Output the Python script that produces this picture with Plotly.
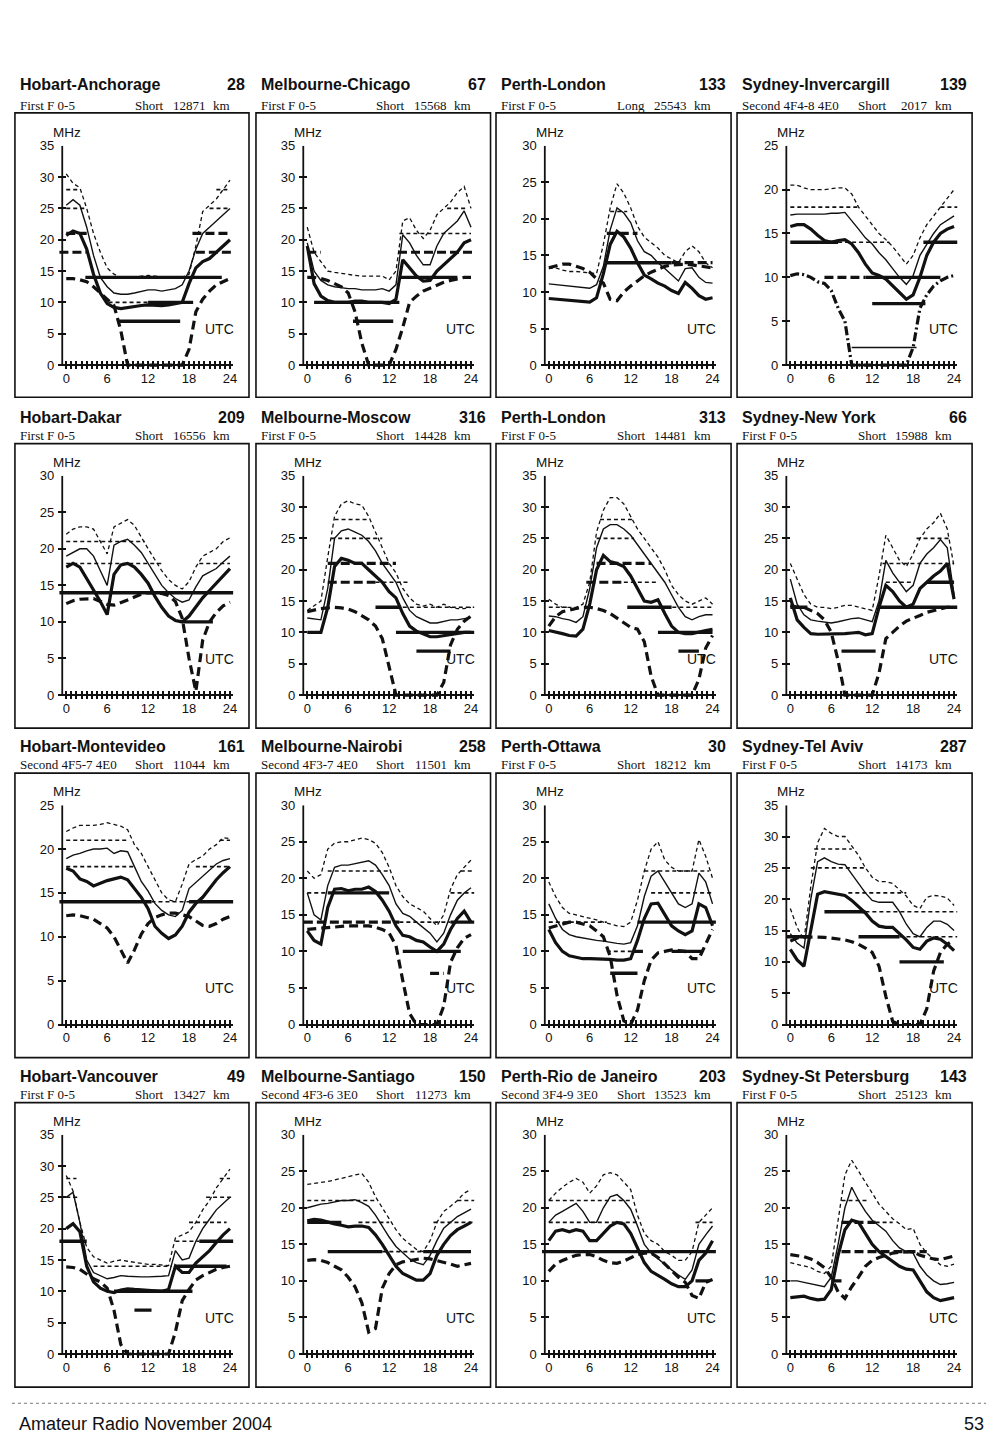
import plotly.graph_objects as go

# ---------------- data ----------------
HOURS = list(range(25))
XTICK_LABELS = {0: "0", 6: "6", 12: "12", 18: "18", 24: "24"}
XTICK_STEP = 0.75   # spacing of the small tick marks on the UTC axis

TITLES = ["Hobart-Anchorage", "Melbourne-Chicago", "Perth-London", "Sydney-Invercargill",
          "Hobart-Dakar", "Melbourne-Moscow", "Perth-London", "Sydney-New York",
          "Hobart-Montevideo", "Melbourne-Nairobi", "Perth-Ottawa", "Sydney-Tel Aviv",
          "Hobart-Vancouver", "Melbourne-Santiago", "Perth-Rio de Janeiro", "Sydney-St Petersburg"]
NUMBERS = ["28", "67", "133", "139", "209", "316", "313", "66",
           "161", "258", "30", "287", "49", "150", "203", "143"]
MODES = ["First F 0-5", "First F 0-5", "First F 0-5", "Second 4F4-8 4E0",
         "First F 0-5", "First F 0-5", "First F 0-5", "First F 0-5",
         "Second 4F5-7 4E0", "Second 4F3-7 4E0", "First F 0-5", "First F 0-5",
         "First F 0-5", "Second 4F3-6 3E0", "Second 3F4-9 3E0", "First F 0-5"]
PATHS = ["Short", "Short", "Long", "Short", "Short", "Short", "Short", "Short",
         "Short", "Short", "Short", "Short", "Short", "Short", "Short", "Short"]
DISTANCES = ["12871", "15568", "25543", "2017", "16556", "14428", "14481", "15988",
             "11044", "11501", "18212", "14173", "13427", "11273", "13523", "25123"]
YMAX = [35, 35, 30, 25, 30, 35, 35, 35, 25, 30, 30, 35, 35, 30, 30, 30]

# Hobart-Anchorage
P1_UP = [30.5, 29, 28.3, 25, 21, 18, 15.5, 14.5, 14, 14, 14, 14.2, 14.3, 14.2, 14, 14, 14, 14, 14.5, 19, 24.5, 25.5, 26.5, 28, 29.5]
P1_MED = [25.5, 26.4, 25.5, 22, 17.5, 14, 12.5, 11.5, 11.3, 11.3, 11.5, 11.8, 12, 12, 11.8, 12, 12.2, 12.8, 15, 18.5, 21, 22, 23, 24, 25]
P1_LOW = [20.7, 21.4, 21, 18.5, 14.5, 11.5, 9.8, 9.2, 9, 9.2, 9.4, 9.5, 9.6, 9.5, 9.5, 9.6, 9.8, 10, 13, 15.5, 16.5, 17, 18, 19, 20]
P1_LUF = [13.8, 13.8, 13.6, 13.3, 12.5, 11.5, 10.5, 9.5, 5.5, 0, 0, 0, 0, 0, 0, 0, 0, 0, 2.5, 8.5, 10.5, 11.8, 12.8, 13.3, 13.8]
P1_BARS = [(28, 0, 2, "d"), (25, 0, 3, "d"), (21, 0, 3, "D"), (18, -1, 3, "D"), (14, 2.8, 22.8, "S"),
           (10, 6.2, 12, "d"), (10, 12, 18.6, "S"), (7, 7.6, 16.7, "S"), (28, 22, 24, "d"),
           (25, 21, 24, "d"), (21, 18.5, 24, "D"), (18, 19, 24.5, "D")]

# Melbourne-Chicago
P2_UP = [22, 18, 16.5, 15, 14.8, 14.6, 14.5, 14.3, 14.2, 14.2, 14.2, 14.2, 13.6, 15, 23, 23.5, 21.5, 20.2, 21.5, 24, 25, 26, 27.5, 28.5, 25]
P2_MED = [19.5, 15, 13.5, 12.8, 12.5, 12.3, 12.2, 12.2, 12, 12, 12, 12.2, 11.8, 12.8, 20.8, 19.5, 17.5, 16, 16, 19, 21, 22, 23, 24.6, 22]
P2_LOW = [19, 13, 11, 10.3, 10, 10, 10, 10.2, 10.2, 10, 10, 10, 9.8, 10.5, 16.8, 15.5, 14.2, 13.4, 13.5, 15, 16, 17, 18, 19.5, 20]
P2_LUF = [14, 14, 13.8, 13.5, 13, 12.5, 11.5, 8.5, 3.5, 0, 0, 0, 0, 2.5, 6, 10, 11, 11.8, 12.3, 12.8, 13.2, 13.5, 13.8, 14, 14]
P2_BARS = [(18, 0, 2, "D"), (14, 13.5, 22, "S"), (10, 1, 13.5, "S"), (7, 6.7, 12.6, "S"),
           (18, 13.3, 24.5, "D"), (21, 13.5, 24, "d"), (25, 20.5, 23.5, "d")]

# Perth-London (long path)
P3_UP = [13.2, 13.3, 13, 12.8, 12.8, 12.7, 12.5, 12.5, 16.5, 21.5, 24.8, 23.5, 21.5, 19, 17.5, 16.8, 16, 15, 14.5, 14, 15.5, 16.3, 15.5, 14, 13.3]
P3_MED = [11.1, 11, 10.9, 10.8, 10.7, 10.6, 10.5, 11, 13.5, 18.5, 21.5, 20.8, 19.5, 17, 15.5, 15, 14, 13.2, 12.3, 11.5, 13.2, 13.3, 12, 11.3, 11.2]
P3_LOW = [9.1, 9, 8.9, 8.9, 8.8, 8.7, 8.6, 9.2, 12.5, 16.5, 18.3, 17.5, 16, 14, 12.3, 11.8, 11.2, 10.8, 10.2, 9.8, 11.3, 10.5, 9.5, 9, 9.2]
P3_LUF = [13.3, 13.5, 13.8, 13.8, 13.5, 13.2, 12.7, 11.8, 11.2, 9, 8.8, 10, 10.8, 11.5, 12.2, 12.7, 13.1, 13.5, 13.7, 13.8, 13.8, 13.7, 13.6, 13.5, 13.3]
P3_BARS = [(21, 9, 11.5, "d"), (18, 8.5, 13, "D"), (14, 8.3, 18, "S"), (14, 18, 24, "D")]

# Sydney-Invercargill
P4_UP = [20.5, 20.5, 20.2, 20, 20, 20, 20.1, 20.2, 20.2, 19.5, 18, 17, 16, 15, 14.3, 13.5, 12.5, 11.5, 12.5, 14.5, 16, 17, 18, 19, 20]
P4_MED = [17.1, 17.2, 17.2, 17.2, 17.2, 17.2, 17.3, 17.3, 17.4, 16.5, 15.5, 14.5, 13.8, 12.8, 12, 11, 10, 9.2, 10.2, 12.5, 13.8, 15, 16, 16.5, 17]
P4_LOW = [15.8, 16, 16, 15.5, 14.8, 14.2, 14, 14.2, 14.3, 13.8, 12.8, 11.5, 10.5, 10.2, 9.8, 9, 8.2, 7.5, 8, 10, 12.5, 14, 15, 15.5, 15.8]
P4_LUF = [10.2, 10.4, 10.3, 10, 9.5, 9.3, 8.5, 6.5, 5, 0, 0, 0, 0, 0, 0, 0, 0, 0, 2, 6.5, 8, 9, 9.6, 10, 10.2]
P4_BARS = [(18, 0, 10, "d"), (18, 22, 24.5, "d"), (14, 0, 7, "S"), (14, 7, 14.5, "d"), (14, 19.5, 24.5, "S"),
           (10, 5, 11, "D"), (10, 11, 22, "S"), (7, 12, 19.8, "S"), (2, 9, 18.5, "s")]

# Hobart-Dakar
P5_UP = [22, 22.7, 23, 23, 22.7, 21, 19.3, 23, 23.5, 24, 23.2, 21.5, 20, 18.5, 17, 15.8, 15, 14.5, 15.5, 17.5, 19, 19.5, 20, 21, 21.5]
P5_MED = [19, 19.5, 20, 20, 19, 17, 15, 20.5, 21, 21.3, 20.5, 19.5, 18, 16.5, 15, 14, 13.2, 12.7, 13, 14.8, 16.3, 16.8, 17.3, 18.2, 19]
P5_LOW = [17.5, 18, 17.5, 16, 14.5, 12.8, 11, 16.5, 17.8, 18, 17.5, 16.5, 15.3, 13.5, 12, 10.8, 10.2, 10, 10.8, 12, 13.3, 14.3, 15.3, 16.3, 17.3]
P5_LUF = [12.5, 12.9, 13.1, 13.2, 13.2, 12.8, 12.4, 12.3, 12.6, 13, 13.4, 13.8, 14, 14, 13.9, 13.6, 12.8, 10.5, 5, 0.5, 7.5, 10, 11.3, 12.2, 12.7]
P5_BARS = [(21, 0, 11.5, "d"), (18, 0, 14, "d"), (14, -1, 24.5, "S"), (10, 17, 21.5, "S"), (18, 19.5, 24, "d")]

# Melbourne-Moscow
P6_UP = [13.5, 14.2, 15, 22, 28.5, 30.5, 31, 30.5, 30.3, 28.5, 26, 23.5, 21, 19.5, 17, 15.5, 14.5, 14.2, 14.5, 14, 14.5, 14, 13.8, 13.8, 14]
P6_MED = [12.3, 12.2, 12, 17, 25, 26.2, 26.5, 26, 25.5, 24.5, 23, 21, 19.5, 18, 15.5, 13.5, 12.5, 12, 11.5, 11.5, 11.7, 12, 12, 12.2, 12.4]
P6_LOW = [10, 10, 10, 14, 20.5, 21.8, 21.5, 21, 21, 20, 19, 18, 16.5, 15.5, 13, 11, 10.2, 9.8, 9.3, 9.3, 9.5, 9.7, 9.8, 10, 10]
P6_LUF = [13.3, 13.6, 13.8, 13.9, 14, 13.9, 13.7, 13.3, 12.7, 12, 11, 9, 4.5, 0, 0, 0, 0, 0, 0, 0, 2, 8, 10.5, 11.8, 12.6]
P6_BARS = [(28, 4, 9, "d"), (25, 3.5, 11, "d"), (21, 3, 13, "D"), (18, 3, 10, "D"), (18, 10, 15, "d"),
           (14, 14, 24.5, "d"), (14, 10, 13.5, "S"), (10, 13, 24.5, "S"), (7, 16, 21, "S")]

# Perth-London (short path)
P7_UP = [15.3, 14.5, 14, 14, 14, 14.5, 18, 26, 29.5, 31.5, 31.5, 30.5, 28.5, 26.5, 25, 23.5, 22, 20, 17.5, 16, 15, 14.5, 15, 15.5, 14.5]
P7_MED = [12.6, 12.5, 12.2, 12, 11.6, 12.5, 17, 23.5, 26.5, 27.2, 27.2, 26.5, 25.5, 24, 22.5, 21, 19.5, 18, 16, 14, 12.5, 12, 12.5, 12.8, 12.8]
P7_LOW = [10.3, 10.1, 9.8, 9.5, 9.4, 10.5, 14.5, 20, 22.3, 21.3, 21, 20.5, 19, 17, 15, 14.8, 15.2, 13, 11, 10, 9.8, 9.8, 10.1, 10.3, 10.5]
P7_LUF = [11, 12.5, 13.3, 13.6, 13.8, 14, 14, 13.8, 13.5, 13, 12.3, 11.5, 10.8, 10.5, 8.5, 3, 0, 0, 0, 0, 0, 0, 2.5, 7.5, 9.5]
P7_BARS = [(28, 7.5, 12.5, "d"), (25, 7, 12.5, "d"), (21, 7, 15, "D"), (18, 5.5, 11, "D"), (18, 11, 16, "d"),
           (14, 0, 3, "d"), (14, 14, 24, "d"), (14, 11.5, 18, "S"), (10, 16, 24, "S"), (7, 19, 22, "S")]

# Sydney-New York
P8_UP = [21, 18.5, 16, 14.5, 14, 14, 13.8, 14, 14.3, 14.3, 14, 13.8, 13.5, 19, 25.5, 23.5, 21.5, 20.5, 22.5, 25, 26.5, 27.5, 29, 26.5, 20.5]
P8_MED = [18.5, 14.5, 12.8, 12, 11.8, 11.6, 11.5, 11.7, 12, 12.2, 12.3, 12, 11.7, 15, 21.5, 19.5, 18, 16.5, 17.5, 21, 22.5, 23.5, 24.8, 23.5, 16]
P8_LOW = [15.5, 12, 10.8, 9.8, 9.7, 9.7, 9.7, 9.7, 9.8, 9.9, 10, 9.6, 9.8, 14, 17.5, 16.5, 15, 14, 14.5, 17, 18, 19, 19.8, 21, 15.3]
P8_LUF = [14.3, 14, 14, 13.5, 13, 12, 10, 5.5, 0, 0, 0, 0, 0, 3.5, 9, 10, 11, 11.8, 12.2, 12.7, 13.2, 13.5, 13.8, 14, 14]
P8_BARS = [(14, 0, 2.5, "S"), (7, 7.5, 12.5, "S"), (14, 13, 24.5, "S"), (18, 14, 18, "d"), (18, 20, 24, "S"),
           (21, 13.5, 24, "d"), (25, 18.5, 23.5, "d")]

# Hobart-Montevideo
P9_UP = [22, 22.4, 22.7, 22.7, 22.7, 22.8, 23, 22.8, 22.6, 22.2, 20.5, 19.5, 18, 16.5, 15, 14.2, 14, 16, 18.3, 18.8, 19.2, 20, 20.5, 21.3, 21.2]
P9_MED = [18.9, 19.3, 19.5, 19.8, 20, 20, 20.1, 19.5, 19.8, 19.7, 18, 16.3, 15.2, 13.8, 13, 12.5, 12.3, 13, 15.5, 16.2, 16.8, 17.5, 18.3, 18.7, 18.9]
P9_LOW = [17.8, 17.5, 16.6, 16.3, 15.8, 16.1, 16.4, 16.6, 16.8, 16.5, 15.5, 14.5, 13.2, 11.2, 10.4, 9.8, 10.2, 11.2, 12.8, 13.8, 14.5, 15.5, 16.5, 17.3, 18]
P9_LUF = [12.4, 12.5, 12.4, 12.2, 12, 11.5, 11, 10, 8.5, 7, 8.5, 10.3, 11.5, 12.2, 12.5, 12.7, 12.7, 12.5, 12.3, 11.8, 11.3, 11.2, 11.5, 12, 12.3]
P9_BARS = [(21, 0, 9, "d"), (21, 22.5, 24, "d"), (18, 0, 10, "d"), (18, 19, 24, "d"),
           (14, -1, 12.5, "S"), (14, 12.5, 18, "d"), (14, 18, 24.5, "S")]

# Melbourne-Nairobi
P10_UP = [21, 20, 20.5, 24, 24.8, 25, 25, 25.2, 25.5, 25.3, 24.8, 23.5, 21.5, 19, 17.5, 16.5, 16, 15.5, 14.5, 13.5, 15, 18.5, 20.5, 21.5, 22.5]
P10_MED = [18, 15, 14.3, 19, 21.5, 21.8, 21.8, 22, 22.3, 22.4, 21.8, 20.5, 19, 16.5, 15.2, 14.8, 14, 13.3, 12.5, 11.3, 12.5, 15, 17, 18, 18.7]
P10_LOW = [12.8, 11.5, 11, 16, 18.5, 18.6, 18.3, 18.5, 18.5, 18.8, 18.2, 17, 15.5, 13.5, 12.2, 12, 11.5, 11.3, 10.6, 10, 11, 13, 14.5, 15.5, 14]
P10_LUF = [13, 13.1, 13.2, 13.3, 13.4, 13.5, 13.5, 13.5, 13.5, 13.5, 13.3, 13, 12.5, 10.8, 6, 1.5, 0, 0, 0, 0, 2.5, 8.5, 10.5, 11.8, 12.3]
P10_BARS = [(21, 3, 12, "d"), (21, 22.5, 24.5, "d"), (18, 0, 3, "d"), (18, 3, 12, "S"), (18, 21, 24.5, "d"),
            (14, -0.5, 13.5, "D"), (14, 13.5, 21, "d"), (14, 21, 24.5, "S"), (10, 14, 22.5, "S"), (7, 18, 20, "D")]

# Perth-Ottawa
P11_UP = [19.5, 17.5, 16, 15.2, 15, 14.8, 14.5, 14.3, 14, 13.7, 13.5, 13.4, 14, 17, 21, 24, 25, 22.5, 21.5, 21, 21, 21, 25.3, 23, 20]
P11_MED = [16.5, 14.5, 13, 12.3, 12, 11.8, 11.6, 11.5, 11.4, 11.2, 11.1, 11, 11.2, 13.5, 17.5, 20.3, 21, 19.5, 18, 16.5, 16, 16.5, 20.7, 19.5, 16.5]
P11_LOW = [13, 11.2, 10, 9.4, 9.2, 9, 9, 9, 8.9, 8.9, 8.8, 8.8, 9, 11.5, 14.5, 16.5, 16.6, 15, 13.5, 12.8, 12.3, 12.8, 16.5, 16, 13.5]
P11_LUF = [13.2, 13.5, 13.8, 14, 14, 13.8, 13.5, 12.8, 12, 9.3, 4, 0.5, 0, 2, 6, 8.8, 9.8, 10, 10.2, 10.1, 10, 9, 9, 11, 13]
P11_BARS = [(14, 0, 8.5, "d"), (10, 8.5, 12.5, "d"), (10, 12.5, 13.8, "S"), (7, 9, 13, "S"), (14, 13, 24.5, "S"),
            (21, 14, 23.5, "d"), (18, 15, 24, "d"), (10, 18, 22.5, "S")]

# Sydney-Tel Aviv
P12_UP = [18.5, 15.5, 13.5, 22, 29, 31.3, 30.5, 30, 30, 28.5, 27, 25, 23.5, 22.8, 22.8, 22.5, 21.5, 20.5, 19, 18.5, 20.3, 20.6, 20.5, 20.2, 19]
P12_MED = [14.5, 13, 12.2, 20, 26, 26.6, 26, 25.6, 25.5, 24, 22.5, 21, 19.8, 19.5, 19.5, 19.5, 18, 16, 14.5, 14, 15.5, 16.5, 16.5, 16, 15]
P12_LOW = [12, 10.3, 9.3, 15, 20.8, 21.2, 21, 20.8, 20.6, 19.8, 18.8, 17.8, 16.5, 15.7, 15.5, 15.5, 14.5, 13.5, 12.3, 12, 13.3, 13.8, 13.6, 12.8, 11.8]
P12_LUF = [13.3, 13.8, 14, 14, 14, 13.9, 13.8, 13.7, 13.5, 13.2, 12.8, 12.2, 11.5, 9.3, 4.5, 0.5, 0, 0, 0, 0, 2.5, 8.5, 11.5, 12.8, 13.5]
P12_BARS = [(14, -0.5, 3, "S"), (28, 3.5, 9, "d"), (25, 3, 11, "d"), (21, 8.5, 17, "d"), (18, 5, 11, "S"),
            (18, 11, 24.5, "d"), (14, 10, 16, "S"), (14, 16, 24.5, "d"), (10, 16, 22.5, "S")]

# Hobart-Vancouver
P13_UP = [28.5, 26, 21, 17, 15.5, 15, 14.5, 14.8, 15, 14.8, 14.6, 14.4, 14.3, 14.3, 14.2, 14.1, 18.5, 19, 19.5, 21, 23, 24.5, 26.5, 28, 29.5]
P13_MED = [25, 25.8, 21, 15, 13, 12.5, 12, 12.2, 12.5, 12.4, 12.3, 12.3, 12.3, 12.3, 12.4, 12.5, 16.5, 15, 15.3, 18, 20, 21.5, 23, 24, 25]
P13_LOW = [20, 20.8, 19.5, 14, 11.5, 10.5, 10, 9.8, 10.2, 10.4, 10.3, 10.2, 10.1, 10, 10, 10.3, 14, 13, 13, 14.5, 15.5, 16.5, 17.8, 19, 20]
P13_LUF = [13.9, 13.8, 13.5, 12.8, 12, 11.5, 10.5, 7, 1.5, 0, 0, 0, 0, 0, 0, 0, 3.5, 8.5, 10.3, 11.8, 12.5, 13, 13.5, 13.8, 14]
P13_BARS = [(28, 0, 1.5, "d"), (25, 0, 2, "d"), (18, -1, 3, "S"), (14, 4, 15.5, "d"), (14, 16, 23.5, "S"),
            (10, 7, 18.5, "S"), (7, 10, 12.5, "S"), (18, 16, 19.5, "d"), (18, 19.5, 24.5, "S"),
            (21, 18, 23.5, "d"), (25, 20.5, 24.5, "d"), (28, 22.5, 24, "d")]

# Melbourne-Santiago
P14_UP = [23.2, 23.3, 23.5, 23.6, 23.8, 24, 24.2, 24.5, 24.7, 23.5, 21.5, 20, 18.5, 17, 15.8, 15, 14.3, 14, 15.5, 18, 19.5, 20.2, 21, 22, 22.5]
P14_MED = [20, 20.3, 20.5, 20.6, 20.8, 21, 21, 21.1, 20.7, 20.2, 19, 17.5, 16, 14.7, 13.8, 13, 12.5, 12.2, 13.5, 15.5, 17.2, 18, 18.8, 19.3, 19.8]
P14_LOW = [18.2, 18.4, 18.3, 18, 17.8, 17.6, 17.4, 17.5, 17.5, 17.3, 16.3, 15, 13.5, 12, 11, 10.5, 10.1, 10.1, 11, 13.5, 15, 16.2, 17, 17.5, 18]
P14_LUF = [12.8, 12.9, 12.8, 12.5, 12, 11.5, 10.5, 9.2, 7, 3, 3.5, 9, 11, 12.2, 12.6, 12.8, 13, 13.1, 13, 12.8, 12.6, 12.3, 12, 12.2, 12.4]
P14_BARS = [(21, 0, 10, "d"), (21, 22, 24.5, "d"), (18, 0, 5, "S"), (18, 7.5, 12, "d"), (18, 18.5, 24.5, "d"),
            (14, 3, 11, "S"), (14, 11, 17, "d"), (14, 17, 24, "S")]

# Perth-Rio de Janeiro
P15_UP = [21, 22, 22.8, 23.5, 24, 23.5, 22, 23, 24.5, 24.8, 24.5, 23.5, 22.5, 19, 16.5, 15.5, 15, 14, 13.5, 12.8, 12.8, 14, 18, 19, 20]
P15_MED = [18, 19, 19.5, 20, 20.6, 19.5, 18, 18, 20, 21.5, 21.8, 21, 19.8, 17.5, 15, 13.8, 13, 12.2, 11.5, 10.8, 10.2, 11.5, 15, 16.3, 17.5]
P15_LOW = [15.5, 16.8, 17, 16.7, 17, 16.8, 15.5, 15.5, 16.5, 17.5, 18, 17.8, 16.5, 14.5, 12.5, 11.3, 10.8, 10.2, 9.6, 9.2, 9.2, 10, 12.8, 13.8, 15.5]
P15_LUF = [11.3, 12.3, 12.8, 13.2, 13.5, 13.6, 13.6, 13.3, 12.8, 12.5, 12.4, 12.7, 13.2, 13.6, 13.8, 13.8, 13.2, 12.3, 11.5, 10.5, 9.8, 8, 7.6, 9.8, 10.2]
P15_BARS = [(21, 0, 12, "d"), (18, 0, 13, "d"), (18, 21.5, 24, "d"), (14, -1, 24.5, "S"), (10, 21.5, 23.5, "S")]

# Sydney-St Petersburg
P16_UP = [12.5, 12.3, 12, 11.8, 11.3, 11, 12, 18, 24.5, 26.5, 25, 23.5, 22, 20.5, 19.5, 18.5, 17.8, 17, 17.2, 15, 13.8, 13, 12.2, 12, 12.3]
P16_MED = [10, 10, 9.8, 9.6, 9.3, 9.2, 10.5, 15, 20, 22.8, 21, 19.5, 18.3, 17.5, 16.8, 15.5, 14.5, 14, 13.8, 12, 10.8, 10, 9.5, 9.6, 9.8]
P16_LOW = [7.7, 7.8, 7.9, 7.6, 7.4, 7.5, 8.8, 13.5, 17, 18.3, 18, 16.5, 15, 14, 13.3, 12.7, 12, 11.6, 11.5, 10, 8.5, 7.7, 7.3, 7.5, 7.7]
P16_LUF = [13.6, 13.5, 13.3, 13, 12.5, 11.8, 10.5, 8.5, 7.6, 9.2, 10.5, 12, 12.8, 13.2, 13.5, 13.8, 13.9, 14, 14, 13.5, 13.2, 13, 12.9, 13.2, 13.4]
P16_BARS = [(10, 6, 7.5, "S"), (21, 7.5, 11.5, "d"), (18, 7.5, 12.5, "D"), (18, 12.5, 15, "d"), (14, 7.5, 20, "D")]

UPPER = [P1_UP, P2_UP, P3_UP, P4_UP, P5_UP, P6_UP, P7_UP, P8_UP,
         P9_UP, P10_UP, P11_UP, P12_UP, P13_UP, P14_UP, P15_UP, P16_UP]
MEDIAN = [P1_MED, P2_MED, P3_MED, P4_MED, P5_MED, P6_MED, P7_MED, P8_MED,
          P9_MED, P10_MED, P11_MED, P12_MED, P13_MED, P14_MED, P15_MED, P16_MED]
LOWER = [P1_LOW, P2_LOW, P3_LOW, P4_LOW, P5_LOW, P6_LOW, P7_LOW, P8_LOW,
         P9_LOW, P10_LOW, P11_LOW, P12_LOW, P13_LOW, P14_LOW, P15_LOW, P16_LOW]
LUF = [P1_LUF, P2_LUF, P3_LUF, P4_LUF, P5_LUF, P6_LUF, P7_LUF, P8_LUF,
       P9_LUF, P10_LUF, P11_LUF, P12_LUF, P13_LUF, P14_LUF, P15_LUF, P16_LUF]
BARS = [P1_BARS, P2_BARS, P3_BARS, P4_BARS, P5_BARS, P6_BARS, P7_BARS, P8_BARS,
        P9_BARS, P10_BARS, P11_BARS, P12_BARS, P13_BARS, P14_BARS, P15_BARS, P16_BARS]

# ---------------- layout / style ----------------
W, H = 1000, 1446
AXIS_X = [62.5, 304.5, 547, 789.5]          # pixel x of each column's y-axis line
ZERO_Y = [360.8, 693.3, 1025.3, 1357.3]     # pixel y of 0 MHz per row
FRAME_X = [(15, 250), (257, 492.5), (498, 734), (740, 976)]
FRAME_Y = [(106.7, 393.3), (440, 726.7), (772, 1058.7), (1104, 1390.7)]
TITLE_Y = [77.7, 413.3, 745.3, 1077.3]
SUB_Y = [99.3, 431.7, 763.7, 1095.7]
PX_PER_H = 6.85
H0_OFF = 4.0
PLOT_H = 221.0
PAD = 4.0

SANS = "Liberation Sans, Arial, sans-serif"
SERIF = "Liberation Serif, Times New Roman, serif"
INK = "#111111"

LUF_DASH = ["9px,5px"] * 16
LUF_DASH[3] = "9px,3px,2px,3px"
BAR_STYLE = {
    "S": dict(width=3.4, dash="solid"),
    "D": dict(width=3.2, dash="9px,4px"),
    "d": dict(width=1.6, dash="4px,3px"),
    "s": dict(width=1.3, dash="solid"),
}

n_ticks = int(round(24 / XTICK_STEP)) + 1
X_TICKVALS = [k * XTICK_STEP for k in range(n_ticks)]
X_TICKTEXT = []
for v in X_TICKVALS:
    key = int(round(v)) if abs(v - round(v)) < 1e-9 else None
    X_TICKTEXT.append(XTICK_LABELS.get(key, "") if key is not None else "")


def paper_x(px):
    return px / W


def paper_y(py):
    return 1 - py / H


fig = go.Figure()
shapes = []
annos = []
axes_layout = {}

for i in range(16):
    r, c = divmod(i, 4)
    ax_px = AXIS_X[c]
    y0_px = ZERO_Y[r]
    ymax = YMAX[i]
    n = "" if i == 0 else str(i + 1)
    xa, ya = "x" + n, "y" + n

    x_lo = -(PAD + H0_OFF) / PX_PER_H
    x_hi = 24.5
    left_px = ax_px - PAD
    right_px = ax_px + H0_OFF + x_hi * PX_PER_H
    y_lo = -PAD * ymax / PLOT_H

    axes_layout["xaxis" + n] = dict(
        domain=[paper_x(left_px), paper_x(right_px)], range=[x_lo, x_hi], anchor=ya,
        tickmode="array", tickvals=X_TICKVALS, ticktext=X_TICKTEXT,
        ticks="inside", ticklen=8, tickwidth=1.6, tickcolor=INK,
        showline=False, showgrid=False, zeroline=False,
        tickfont=dict(family=SANS, size=13, color=INK), fixedrange=True,
    )
    axes_layout["yaxis" + n] = dict(
        domain=[paper_y(y0_px + PAD), paper_y(y0_px - PLOT_H)], range=[y_lo, ymax], anchor=xa,
        tickmode="array", tickvals=list(range(0, ymax + 1, 5)),
        ticks="inside", ticklen=8, tickwidth=1.6, tickcolor=INK,
        showline=False, showgrid=False,
        zeroline=True, zerolinecolor=INK, zerolinewidth=1.8,
        ticklabelstandoff=3,
        tickfont=dict(family=SANS, size=13, color=INK), fixedrange=True,
    )

    common = dict(xaxis=xa, yaxis=ya, mode="lines", showlegend=False, hoverinfo="skip")
    # horizontal band-opening bars, grouped by style
    for style, st in BAR_STYLE.items():
        bx, by = [], []
        for lvl, s, e, sty in BARS[i]:
            if sty == style:
                bx += [s, e, None]
                by += [lvl, lvl, None]
        if bx:
            fig.add_trace(go.Scatter(x=bx, y=by, line=dict(color=INK, width=st["width"], dash=st["dash"]), **common))
    fig.add_trace(go.Scatter(x=HOURS, y=UPPER[i], line=dict(color=INK, width=1.3, dash="4px,3px"), **common))
    fig.add_trace(go.Scatter(x=HOURS, y=MEDIAN[i], line=dict(color=INK, width=1.4), **common))
    fig.add_trace(go.Scatter(x=HOURS, y=LOWER[i], line=dict(color=INK, width=3.2), **common))
    fig.add_trace(go.Scatter(x=HOURS, y=LUF[i], line=dict(color=INK, width=3.2, dash=LUF_DASH[i]), **common))

    # vertical axis line
    yx = -H0_OFF / PX_PER_H
    shapes.append(dict(type="line", xref=xa, yref=ya, x0=yx, x1=yx, y0=0, y1=ymax,
                       line=dict(color=INK, width=1.8)))
    # panel frame
    fx0, fx1 = FRAME_X[c]
    fy0, fy1 = FRAME_Y[r]
    shapes.append(dict(type="rect", xref="paper", yref="paper",
                       x0=paper_x(fx0), x1=paper_x(fx1), y0=paper_y(fy1), y1=paper_y(fy0),
                       line=dict(color=INK, width=1.6)))

    lf = fx0
    annos.append(dict(text="<b>%s</b>" % TITLES[i], x=paper_x(lf + 3), y=paper_y(TITLE_Y[r]),
                      xanchor="left", yanchor="middle", font=dict(family=SANS, size=16, color=INK)))
    annos.append(dict(text="<b>%s</b>" % NUMBERS[i], x=paper_x(lf + 233), y=paper_y(TITLE_Y[r]),
                      xanchor="right", yanchor="middle", font=dict(family=SANS, size=16, color=INK)))
    annos.append(dict(text=MODES[i], x=paper_x(lf + 3), y=paper_y(SUB_Y[r]),
                      xanchor="left", yanchor="middle", font=dict(family=SERIF, size=13, color=INK)))
    annos.append(dict(text=PATHS[i], x=paper_x(lf + 119), y=paper_y(SUB_Y[r]),
                      xanchor="left", yanchor="middle", font=dict(family=SERIF, size=13, color=INK)))
    annos.append(dict(text=DISTANCES[i], x=paper_x(lf + 194), y=paper_y(SUB_Y[r]),
                      xanchor="right", yanchor="middle", font=dict(family=SERIF, size=13, color=INK)))
    annos.append(dict(text="km", x=paper_x(lf + 218), y=paper_y(SUB_Y[r]),
                      xanchor="right", yanchor="middle", font=dict(family=SERIF, size=13, color=INK)))
    annos.append(dict(text="MHz", x=paper_x(ax_px + 5), y=paper_y(y0_px - 234.5),
                      xanchor="center", yanchor="middle", font=dict(family=SANS, size=13.5, color=INK)))
    annos.append(dict(text="UTC", x=paper_x(ax_px + 174), y=paper_y(y0_px - 36.5),
                      xanchor="right", yanchor="middle", font=dict(family=SANS, size=14, color=INK)))

# footer
shapes.append(dict(type="line", xref="paper", yref="paper", x0=paper_x(12), x1=paper_x(990),
                   y0=paper_y(1407), y1=paper_y(1407), line=dict(color="#777777", width=1, dash="dot")))
annos.append(dict(text="Amateur Radio November 2004", x=paper_x(17), y=paper_y(1428),
                  xanchor="left", yanchor="middle", font=dict(family=SANS, size=18, color=INK)))
annos.append(dict(text="53", x=paper_x(990), y=paper_y(1428),
                  xanchor="right", yanchor="middle", font=dict(family=SANS, size=18, color=INK)))

for a in annos:
    a.update(xref="paper", yref="paper", showarrow=False)

fig.update_layout(
    width=W, height=H, margin=dict(l=0, r=0, t=0, b=0),
    paper_bgcolor="white", plot_bgcolor="rgba(0,0,0,0)",
    showlegend=False, shapes=shapes, annotations=annos, **axes_layout,
)

fig.write_html(
    "out.html",
    config={"displayModeBar": False},
    post_script="document.body.style.margin='0px';document.body.style.overflow='hidden';",
)
